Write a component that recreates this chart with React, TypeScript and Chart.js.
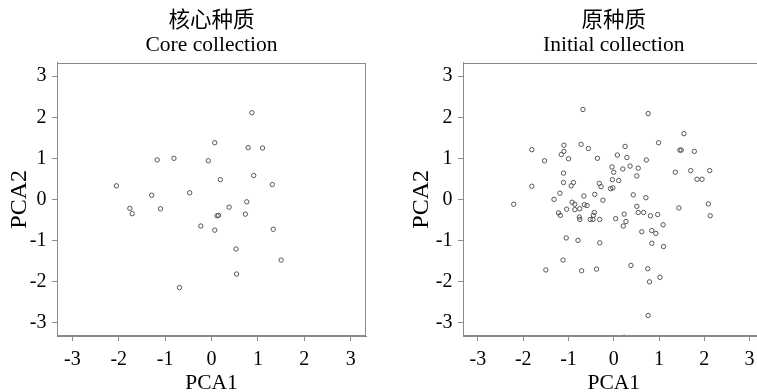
import React, { useEffect, useRef } from "react";
import { Chart, registerables } from "chart.js";

Chart.register(...registerables);

// ---- data ----
const TICK_VALUES = [-3, -2, -1, 0, 1, 2, 3];
const AXIS_MIN = -3.33;
const AXIS_MAX = 3.33;

const CORE_TITLE = ["核心种质", "Core collection"];
const INITIAL_TITLE = ["原种质", "Initial collection"];
const X_LABEL = "PCA1";
const Y_LABEL = "PCA2";

const CORE_X = [0.87, 0.07, 0.79, 1.1, -1.17, -0.81, -0.07, 0.19, 0.91, -2.05, 1.31, -1.29, -0.47, -1.76, -1.71, -1.1, 0.38, 0.76, 0.12, 0.15, 0.73, -0.23, 0.07, 1.33, 0.53, 1.5, 0.54, -0.69];
const CORE_Y = [2.11, 1.38, 1.26, 1.25, 0.96, 1.0, 0.94, 0.48, 0.58, 0.33, 0.36, 0.1, 0.16, -0.22, -0.35, -0.23, -0.19, -0.06, -0.4, -0.39, -0.36, -0.65, -0.75, -0.73, -1.21, -1.48, -1.82, -2.15];

const INITIAL_X = [-0.68, 0.76, 1.55, 0.99, -1.81, -1.1, -1.1, -1.16, -0.72, -0.56, 0.25, 1.46, 1.49, 1.78, -1.53, -1.0, -0.36, 0.08, 0.29, 0.72, -0.04, 0.2, 0.36, 0.54, 0.0, 0.51, -1.11, 1.36, 1.7, 2.12, 1.84, 1.95, -1.81, -1.11, -0.89, -0.94, -0.32, -0.28, -0.03, 0.11, -0.07, -0.02, -2.21, -1.32, -1.19, -0.66, -0.42, -0.24, 0.43, 0.71, -0.92, -0.86, -0.65, -0.59, -1.04, -0.86, -0.75, -1.22, -1.18, -0.76, -0.75, -0.43, -0.45, -0.52, -0.46, -0.31, 0.04, 0.23, 0.27, 0.21, 0.51, 0.54, 0.66, 0.81, 0.97, 1.44, 2.09, 2.13, 1.09, 0.62, 0.84, 0.93, 0.84, 1.1, -1.05, -0.79, -0.31, -1.12, -1.5, -0.71, -0.38, 0.38, 0.75, 1.02, 0.79, 0.76, 0.23];
const INITIAL_Y = [2.19, 2.09, 1.6, 1.38, 1.21, 1.32, 1.17, 1.09, 1.34, 1.24, 1.29, 1.2, 1.2, 1.17, 0.94, 0.99, 1.0, 1.08, 1.02, 0.96, 0.79, 0.74, 0.81, 0.76, 0.66, 0.57, 0.64, 0.66, 0.7, 0.7, 0.49, 0.49, 0.32, 0.41, 0.41, 0.33, 0.39, 0.31, 0.48, 0.46, 0.26, 0.28, -0.12, 0.0, 0.15, 0.08, 0.12, -0.02, 0.11, 0.04, -0.07, -0.12, -0.13, -0.15, -0.24, -0.25, -0.23, -0.33, -0.39, -0.43, -0.49, -0.32, -0.39, -0.49, -0.49, -0.49, -0.47, -0.36, -0.54, -0.65, -0.17, -0.32, -0.32, -0.4, -0.37, -0.21, -0.11, -0.4, -0.62, -0.79, -0.76, -0.83, -1.07, -1.15, -0.94, -1.0, -1.06, -1.48, -1.72, -1.74, -1.7, -1.61, -1.69, -1.9, -2.01, -2.83, -3.36];

// ---- styles ----
const FONT = '"Liberation Serif", "Noto Sans CJK SC", serif';
const FRAME = "#8a8a8a";
const POINT = "#555555";

const framePlugin = {
  id: "frame",
  afterDraw(chart: any) {
    const { ctx, chartArea } = chart;
    const l = Math.round(chartArea.left) + 0.5;
    const t = Math.round(chartArea.top) + 0.5;
    const r = Math.round(chartArea.right) - 0.5;
    const b = Math.round(chartArea.bottom) - 0.5;
    ctx.save();
    ctx.strokeStyle = FRAME;
    ctx.lineWidth = 1;
    ctx.strokeRect(l, t, r - l, b - t);
    ctx.restore();
  },
};

type PanelProps = {
  xs: number[];
  ys: number[];
  title: string[];
  left: number;
  width: number;
  yAxisWidth: number;
  padRight: number;
  yTitlePad: number;
};

function Panel({ xs, ys, title, left, width, yAxisWidth, padRight, yTitlePad }: PanelProps) {
  const ref = useRef<HTMLCanvasElement | null>(null);
  useEffect(() => {
    if (!ref.current) return;
    const points = xs.map((x, i) => ({ x, y: ys[i] }));
    const tickOpts = {
      color: "#000",
      font: { family: FONT, size: 20 },
      maxRotation: 0,
      autoSkip: false,
      callback: (v: any) => String(v),
    };
    const chart = new Chart(ref.current, {
      type: "scatter",
      data: {
        datasets: [
          {
            data: points,
            pointStyle: "circle",
            pointRadius: 2.2,
            pointHoverRadius: 2.2,
            borderWidth: 1,
            borderColor: POINT,
            backgroundColor: "rgba(0,0,0,0)",
          },
        ],
      },
      options: {
        responsive: false,
        animation: false,
        devicePixelRatio: 1,
        events: [],
        layout: { padding: { left: 0, right: padRight, top: 0, bottom: 0 } },
        plugins: {
          legend: { display: false },
          tooltip: { enabled: false },
          title: {
            display: true,
            fullSize: false,
            text: title,
            color: "#000",
            font: { family: FONT, size: 21.5, weight: "normal", lineHeight: 24 / 21.5 },
            padding: { top: 9, bottom: 5.7 },
          },
        },
        scales: {
          x: {
            type: "linear",
            min: AXIS_MIN,
            max: AXIS_MAX,
            afterBuildTicks: (s: any) => {
              s.ticks = TICK_VALUES.map((v) => ({ value: v }));
            },
            afterFit: (s: any) => {
              s.height = 56;
            },
            grid: { display: true, drawOnChartArea: false, drawTicks: true, tickLength: 5, color: FRAME },
            border: { display: true, color: FRAME },
            ticks: { ...tickOpts, padding: 7 },
            title: {
              display: true,
              text: X_LABEL,
              color: "#000",
              font: { family: FONT, size: 21.5, lineHeight: 0.8 },
              padding: { top: 0, bottom: 0 },
            },
          },
          y: {
            type: "linear",
            min: AXIS_MIN,
            max: AXIS_MAX,
            afterBuildTicks: (s: any) => {
              s.ticks = TICK_VALUES.map((v) => ({ value: v }));
            },
            afterFit: (s: any) => {
              s.width = yAxisWidth;
            },
            grid: { display: true, drawOnChartArea: false, drawTicks: true, tickLength: 5, color: FRAME },
            border: { display: true, color: FRAME },
            ticks: { ...tickOpts, padding: 5.5 },
            title: {
              display: true,
              text: Y_LABEL,
              color: "#000",
              font: { family: FONT, size: 24, lineHeight: 1.2 },
              padding: { top: yTitlePad, bottom: 0 },
            },
          },
        },
      } as any,
      plugins: [framePlugin],
    });
    return () => chart.destroy();
  }, []);
  return (
    <canvas
      ref={ref}
      width={width}
      height={392}
      style={{ position: "absolute", left, top: 0, width, height: 392 }}
    />
  );
}

export default function App() {
  return (
    <div
      style={{
        position: "absolute",
        left: 0,
        top: 0,
        width: 757,
        height: 392,
        overflow: "hidden",
        background: "#fff",
      }}
    >
      <Panel xs={CORE_X} ys={CORE_Y} title={CORE_TITLE} left={0} width={372} yAxisWidth={57} padRight={6} yTitlePad={5} />
      <Panel xs={INITIAL_X} ys={INITIAL_Y} title={INITIAL_TITLE} left={400} width={372} yAxisWidth={63} padRight={7.5} yTitlePad={7} />
    </div>
  );
}
